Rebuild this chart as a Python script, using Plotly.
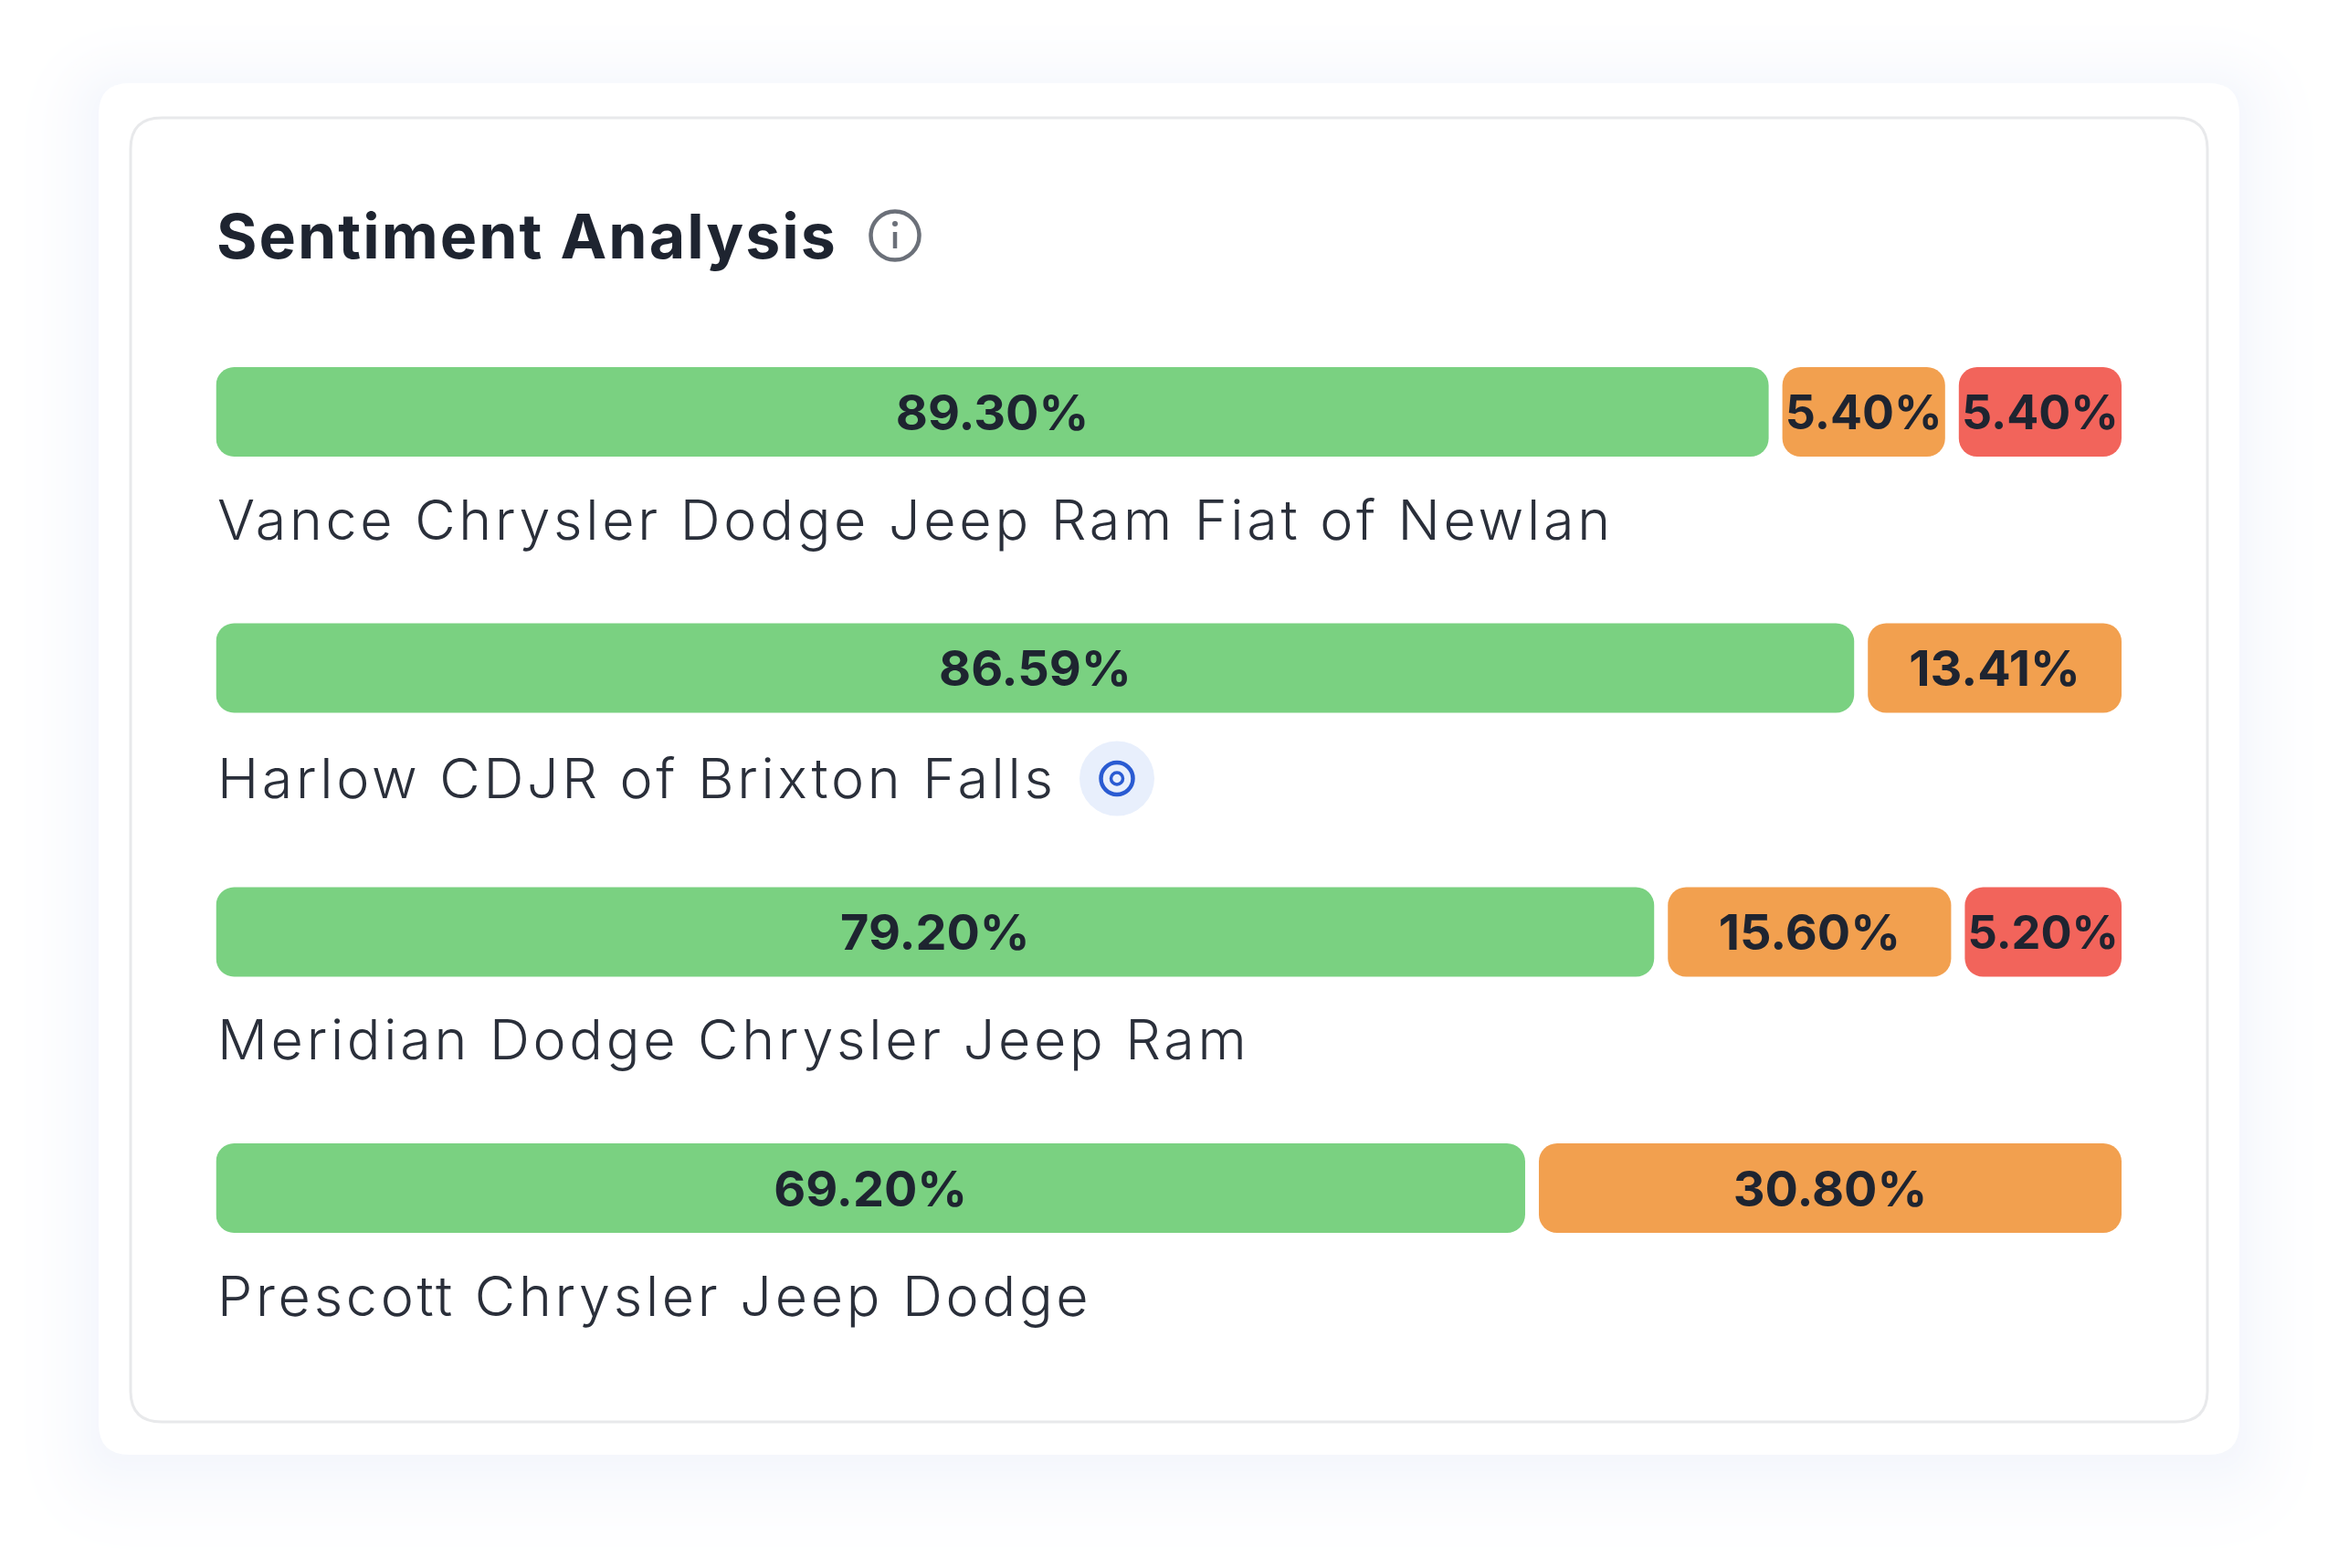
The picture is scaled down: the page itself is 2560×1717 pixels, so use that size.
import plotly.graph_objects as go

# ---- data ----
dealers = ["Vance Chrysler Dodge Jeep Ram Fiat of Newlan",
           "Harlow CDJR of Brixton Falls",
           "Meridian Dodge Chrysler Jeep Ram",
           "Prescott Chrysler Jeep Dodge"]
positive = [89.30, 86.59, 79.20, 69.20]
neutral = [5.40, 13.41, 15.60, 30.80]
negative = [5.40, None, 5.20, None]
title = "Sentiment Analysis"

# ---- style / layout constants (pixels of the 2560x1717 page) ----
W, H = 2560, 1717
INK = "#1e2430"
GREEN, ORANGE, RED = "#7ad181", "#f2a04f", "#f2645b"
TRACK_L, TRACK_R = 236.5, 2323
GAP_PX = 15
SMALL_SHARE = 6.0       # segments under this share get a label-sized width
SMALL_PX_PER_PCT = 33.0
ROW0 = 451
PITCH = 280.5
BADGE_EXTRA = 8.5
BAR_H = 98
LABEL_DY = 117.5
BADGE_ROW = 1
TITLE_SIZE, LABEL_SIZE = 68, 61


def px_x(x):
    return x / W


def px_y(y):
    return 1 - y / H


def rounded(x0, y0, x1, y1, r):
    X, Y = px_x, px_y
    return (f"M {X(x0 + r)} {Y(y0)} L {X(x1 - r)} {Y(y0)} Q {X(x1)} {Y(y0)} {X(x1)} {Y(y0 + r)} "
            f"L {X(x1)} {Y(y1 - r)} Q {X(x1)} {Y(y1)} {X(x1 - r)} {Y(y1)} "
            f"L {X(x0 + r)} {Y(y1)} Q {X(x0)} {Y(y1)} {X(x0)} {Y(y1 - r)} "
            f"L {X(x0)} {Y(y0 + r)} Q {X(x0)} {Y(y0)} {X(x0 + r)} {Y(y0)} Z")


def circle(cx, cy, r, **kw):
    return dict(type="circle", xref="paper", yref="paper", x0=px_x(cx - r), x1=px_x(cx + r),
                y0=px_y(cy + r), y1=px_y(cy - r), layer="below", **kw)


def segments(vals):
    """Lay a row out: tiny segments get a label-sized width, the rest share what is left."""
    present = [v for v in vals if v is not None]
    avail = (TRACK_R - TRACK_L) - GAP_PX * (len(present) - 1)
    small = [v for v in present if v < SMALL_SHARE]
    rest = avail - sum(v * SMALL_PX_PER_PCT for v in small)
    big = sum(v for v in present if v >= SMALL_SHARE)
    out, pos = [], 0.0
    for v in vals:
        if v is None:
            out.append((None, None))
            continue
        w = v * SMALL_PX_PER_PCT if v < SMALL_SHARE else v / big * rest
        out.append((pos, w))
        pos += w + GAP_PX
    return out


rows = [segments(r) for r in zip(positive, neutral, negative)]
row_y = [ROW0 + PITCH * i + (BADGE_EXTRA if i > BADGE_ROW else 0) for i in range(len(dealers))]

fig = go.Figure()
for k, (name, vals, col) in enumerate([("Positive", positive, GREEN),
                                       ("Neutral", neutral, ORANGE),
                                       ("Negative", negative, RED)]):
    fig.add_trace(go.Bar(
        orientation="h", name=name, y=row_y,
        base=[r[k][0] for r in rows], x=[r[k][1] for r in rows],
        width=BAR_H, marker=dict(color=col, line=dict(width=0), cornerradius=20),
        text=[None if v is None else f"{v:.2f}%" for v in vals],
        textposition="inside", insidetextanchor="middle", textangle=0, constraintext="none",
        insidetextfont=dict(family="Inter", size=54, color=INK, weight=700),
        customdata=dealers, hovertemplate="%{customdata}<br>" + name + ": %{text}<extra></extra>",
    ))

shapes = []
# soft glow round the outer card: opaque layers, faintest first
STEPS = 40
for i in range(STEPS):
    t = i / (STEPS - 1)
    d = 125 * (1 - t)
    a = t * t
    c = f"rgb({255 - 10 * a:.0f},{255 - 8 * a:.0f},{255 - 2.5 * a:.0f})"
    shapes.append(dict(type="path", xref="paper", yref="paper", layer="below", fillcolor=c,
                       line=dict(width=0),
                       path=rounded(108 - d * .85, 91 - d * .75 + 8, 2452 + d * .85, 1593 + d + 8, 34 + d)))
shapes.append(dict(type="path", xref="paper", yref="paper", layer="below", fillcolor="#ffffff",
                   line=dict(width=0), path=rounded(108, 91, 2452, 1593, 34)))
shapes.append(dict(type="path", xref="paper", yref="paper", layer="below", fillcolor="#ffffff",
                   line=dict(width=3, color="#e8e9eb"), path=rounded(143, 129, 2417, 1557, 34)))
# info icon
INFO = "#6b7079"
shapes.append(circle(980, 258, 26.5, line=dict(color=INFO, width=4.5), fillcolor="rgba(0,0,0,0)"))
shapes.append(circle(980, 245, 3, line=dict(width=0), fillcolor=INFO))
shapes.append(dict(type="line", xref="paper", yref="paper", layer="below",
                   x0=px_x(980), x1=px_x(980), y0=px_y(254), y1=px_y(272),
                   line=dict(color=INFO, width=4.5)))
# target badge
bx, by = 1223, row_y[BADGE_ROW] + 121
shapes.append(circle(bx, by, 41, line=dict(width=0), fillcolor="#e8effc"))
shapes.append(circle(bx, by, 17.5, line=dict(color="#2a5bd2", width=4.5), fillcolor="rgba(0,0,0,0)"))
shapes.append(circle(bx, by, 6.5, line=dict(color="#2a5bd2", width=3.5), fillcolor="rgba(0,0,0,0)"))

annotations = [dict(text=title, xref="paper", yref="paper", x=px_x(235), y=px_y(258),
                    xanchor="left", yanchor="middle", align="left", showarrow=False,
                    font=dict(family="Inter", size=TITLE_SIZE, color=INK, weight=700))]
for name, y in zip(dealers, row_y):
    annotations.append(dict(text=name, xref="x", yref="y", x=0, y=y + LABEL_DY + (2.5 if name == dealers[BADGE_ROW] else 0),
                            xanchor="left", yanchor="middle", align="left", showarrow=False, xshift=-1,
                            font=dict(family="Inter", size=LABEL_SIZE, color="#2a2f3a", weight=300)))

fig.update_layout(
    width=W, height=H, margin=dict(l=0, r=0, t=0, b=0), autosize=False,
    paper_bgcolor="#ffffff", plot_bgcolor="rgba(0,0,0,0)", showlegend=False,
    barmode="overlay", shapes=shapes, annotations=annotations,
    xaxis=dict(domain=[px_x(TRACK_L), px_x(TRACK_R)], range=[0, TRACK_R - TRACK_L], visible=False, fixedrange=True),
    yaxis=dict(domain=[0, 1], range=[H, 0], visible=False, fixedrange=True),
)
post = f"""
document.body.style.margin='0';document.body.style.overflow='hidden';
var s=document.createElement('style');
s.textContent='text.annotation-text[style*="font-size: {TITLE_SIZE}px"]{{letter-spacing:2px}}'
 +'text.annotation-text[style*="font-size: {LABEL_SIZE}px"]{{letter-spacing:3.7px}}';
document.head.appendChild(s);
"""
fig.write_html("out.html", post_script=post, config={"displayModeBar": False})
